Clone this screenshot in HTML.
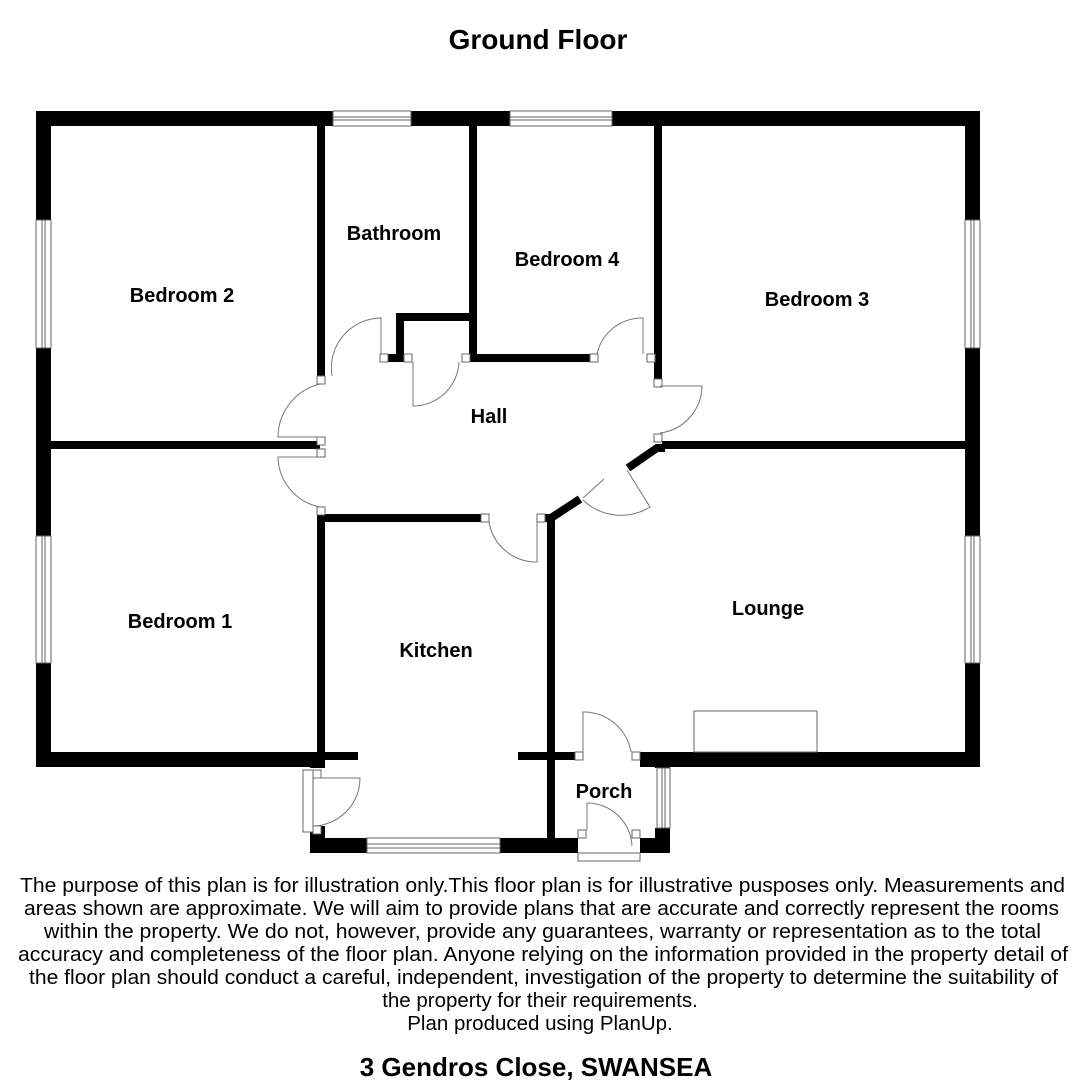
<!DOCTYPE html>
<html><head><meta charset="utf-8"><style>
html,body{margin:0;padding:0;background:#fff}
svg{display:block}
text{font-family:"Liberation Sans",Arial,sans-serif;fill:#000}
</style></head><body>
<svg width="1080" height="1080" viewBox="0 0 1080 1080" xml:space="preserve">
<rect width="1080" height="1080" fill="#fff"/>
<g fill="#000">
<rect x="36" y="111" width="944" height="15"/>
<rect x="36" y="111" width="15" height="656"/>
<rect x="965" y="111" width="15" height="656"/>
<rect x="36" y="752" width="288" height="15"/>
<rect x="310" y="752" width="48" height="8"/>
<rect x="310" y="752" width="15" height="16"/>
<rect x="640" y="752" width="340" height="15"/>
<rect x="518" y="752" width="62" height="8"/>
<rect x="310" y="838" width="268" height="15"/>
<rect x="310" y="826" width="15" height="27"/>
<rect x="640" y="838" width="30" height="15"/>
<rect x="655" y="752" width="15" height="16"/>
<rect x="655" y="828" width="15" height="25"/>
<rect x="317" y="126" width="8" height="257"/>
<rect x="469" y="126" width="8" height="236"/>
<rect x="477" y="354" width="113" height="8"/>
<rect x="396" y="313" width="81" height="8"/>
<rect x="396" y="313" width="8" height="49"/>
<rect x="388" y="354" width="16" height="8"/>
<rect x="654" y="126" width="8" height="254"/>
<rect x="662" y="441" width="303" height="8"/>
<rect x="51" y="441" width="269" height="8"/>
<rect x="317" y="514" width="168" height="8"/>
<rect x="317" y="514" width="8" height="238"/>
<rect x="547" y="514" width="8" height="326"/>
<rect x="540" y="514" width="15" height="8"/>
</g>
<g stroke="#000" stroke-width="8" fill="none">
<path d="M551 518 L580 499"/>
<path d="M628 468 L657 448 L665 448"/>
</g>
<g fill="#fff" stroke="#666" stroke-width="1">
<rect x="333" y="111" width="78" height="15"/><line x1="333" y1="117" x2="411" y2="117"/><line x1="333" y1="120" x2="411" y2="120"/>
<rect x="510" y="111" width="102" height="15"/><line x1="510" y1="117" x2="612" y2="117"/><line x1="510" y1="120" x2="612" y2="120"/>
<rect x="36" y="220" width="15" height="128"/><line x1="42" y1="220" x2="42" y2="348"/><line x1="45" y1="220" x2="45" y2="348"/>
<rect x="36" y="536" width="15" height="127"/><line x1="42" y1="536" x2="42" y2="663"/><line x1="45" y1="536" x2="45" y2="663"/>
<rect x="965" y="220" width="15" height="128"/><line x1="971" y1="220" x2="971" y2="348"/><line x1="974" y1="220" x2="974" y2="348"/>
<rect x="965" y="536" width="15" height="127"/><line x1="971" y1="536" x2="971" y2="663"/><line x1="974" y1="536" x2="974" y2="663"/>
<rect x="367" y="838" width="133" height="15"/><line x1="367" y1="844" x2="500" y2="844"/><line x1="367" y1="848" x2="500" y2="848"/>
<rect x="657" y="768" width="13" height="60"/><line x1="662" y1="768" x2="662" y2="828"/><line x1="665" y1="768" x2="665" y2="828"/>
<rect x="303" y="770" width="10" height="62"/>
<rect x="578" y="853" width="62" height="8"/>
<rect x="694" y="711" width="123" height="41"/>
</g>
<g fill="#fff" stroke="#666" stroke-width="1">
<rect x="317" y="376" width="8" height="8"/><rect x="380" y="354" width="8" height="8"/>
<rect x="404" y="354" width="8" height="8"/><rect x="462" y="354" width="8" height="8"/>
<rect x="590" y="354" width="8" height="8"/><rect x="647" y="354" width="8" height="8"/>
<rect x="654" y="379" width="8" height="8"/><rect x="654" y="434" width="8" height="8"/>
<rect x="317" y="437" width="8" height="8"/><rect x="317" y="449" width="8" height="8"/>
<rect x="317" y="507" width="8" height="8"/><rect x="481" y="514" width="8" height="8"/>
<rect x="537" y="514" width="8" height="8"/>
<rect x="313" y="770" width="8" height="8"/><rect x="313" y="826" width="8" height="8"/>
<rect x="575" y="752" width="8" height="8"/><rect x="632" y="752" width="8" height="8"/>
<rect x="578" y="830" width="8" height="8"/><rect x="632" y="830" width="8" height="8"/>
</g>
<g fill="none" stroke="#777" stroke-width="1">
<path d="M332 376 A50 50 0 0 1 381 318 L381 354"/>
<path d="M413 362 L413 406 A46 46 0 0 0 459 362"/>
<path d="M597 354 A46 46 0 0 1 643 318 L643 354"/>
<path d="M660 386 L702 386 A48 48 0 0 1 660 433"/>
<path d="M320 384 A55 55 0 0 0 278 437 L320 437"/>
<path d="M320 457 L278 457 A52 52 0 0 0 320 507"/>
<path d="M489 522 A48 48 0 0 0 537 562 L537 522"/>
<path d="M583 500 A55 55 0 0 0 650 507 L627 470"/>
<path d="M583 498 L604 479"/>
<path d="M314 778 L360 778 A48 48 0 0 1 314 826"/>
<path d="M583 752 L583 712 A48 48 0 0 1 631 752"/>
<path d="M587 830 L587 803 A45 45 0 0 1 632 846"/>
</g>
<g font-weight="bold" font-size="20" text-anchor="middle">
<text x="538" y="49" font-size="28">Ground Floor</text>
<text x="394" y="240">Bathroom</text>
<text x="567" y="266">Bedroom 4</text>
<text x="182" y="302">Bedroom 2</text>
<text x="817" y="306">Bedroom 3</text>
<text x="489" y="423">Hall</text>
<text x="180" y="628">Bedroom 1</text>
<text x="768" y="615">Lounge</text>
<text x="436" y="657">Kitchen</text>
<text x="604" y="798">Porch</text>
<text x="536" y="1076" font-size="26">3 Gendros Close, SWANSEA</text>
</g>
<g font-size="20.5">
<text x="20" y="892" textLength="1045" lengthAdjust="spacingAndGlyphs">The purpose of this plan is for illustration only.This floor plan is for illustrative pusposes only.  Measurements and</text>
<text x="24" y="915" textLength="1035" lengthAdjust="spacingAndGlyphs">areas shown are approximate.  We will aim to provide plans that are accurate and correctly represent the rooms</text>
<text x="44" y="938" textLength="997" lengthAdjust="spacingAndGlyphs">within the property.  We do not, however, provide any guarantees, warranty or representation as to the total</text>
<text x="18" y="961" textLength="1050" lengthAdjust="spacingAndGlyphs">accuracy and completeness of the floor plan.  Anyone relying on the information provided in the property detail of</text>
<text x="29" y="984" textLength="1029" lengthAdjust="spacingAndGlyphs">the floor plan should conduct a careful, independent, investigation of the property to determine the suitability of</text>
<text x="540" y="1007" text-anchor="middle">the property for their requirements.</text>
<text x="540" y="1030" text-anchor="middle">Plan produced using PlanUp.</text>
</g>
</svg>
</body></html>
